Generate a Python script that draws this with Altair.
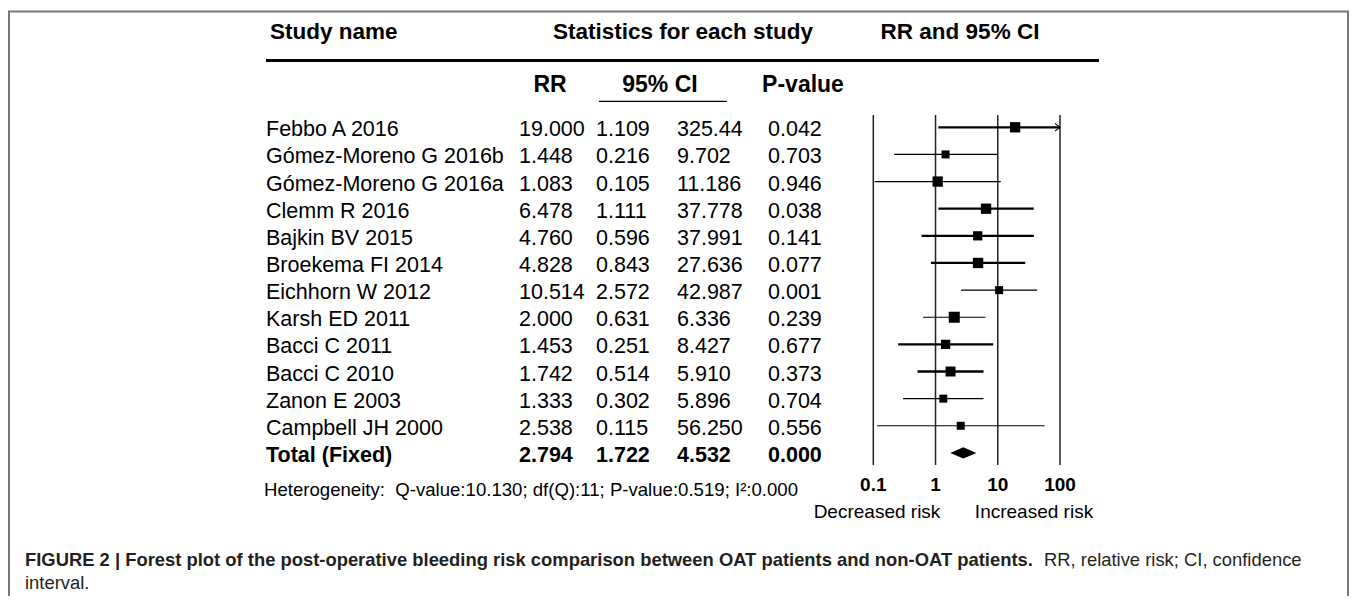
import altair as alt
import pandas as pd

# ---------------- data ----------------
studies = ["Febbo A 2016", "Gómez-Moreno G 2016b", "Gómez-Moreno G 2016a", "Clemm R 2016",
           "Bajkin BV 2015", "Broekema FI 2014", "Eichhorn W 2012", "Karsh ED 2011",
           "Bacci C 2011", "Bacci C 2010", "Zanon E 2003", "Campbell JH 2000"]
rr = [19.000, 1.448, 1.083, 6.478, 4.760, 4.828, 10.514, 2.000, 1.453, 1.742, 1.333, 2.538]
ci_low = [1.109, 0.216, 0.105, 1.111, 0.596, 0.843, 2.572, 0.631, 0.251, 0.514, 0.302, 0.115]
ci_high = [325.44, 9.702, 11.186, 37.778, 37.991, 27.636, 42.987, 6.336, 8.427, 5.910, 5.896, 56.250]
p_values = [0.042, 0.703, 0.946, 0.038, 0.141, 0.077, 0.001, 0.239, 0.677, 0.373, 0.704, 0.556]
rel_weight = [0.9, 0.6, 0.9, 0.9, 0.75, 0.9, 0.6, 1.0, 0.75, 0.85, 0.6, 0.6]

total_label = "Total (Fixed)"
total_rr, total_low, total_high, total_p = 2.794, 1.722, 4.532, 0.000

axis_ticks = [0.1, 1, 10, 100]
axis_labels = ["0.1", "1", "10", "100"]
heterogeneity = "Heterogeneity:\u00a0 Q-value:10.130; df(Q):11; P-value:0.519; I\u00b2:0.000"
caption_bold = ("FIGURE 2 | Forest plot of the post-operative bleeding risk comparison "
                "between OAT patients and non-OAT patients.")
caption_rest = "RR, relative risk; CI, confidence"
caption_line2 = "interval."

# ---------------- styles ----------------
THICK_CI = {"Febbo A 2016", "Clemm R 2016", "Bajkin BV 2015", "Broekema FI 2014",
            "Bacci C 2011", "Bacci C 2010"}
FONT = "Liberation Sans"
W, H = 1341, 588
X_MAX = axis_ticks[-1]


def fmt(v):
    return f"{v:.3f}"[:6]


rows = pd.DataFrame({
    "row": list(range(len(studies))),
    "name": studies,
    "rr": rr,
    "lo": ci_low,
    "hi": ci_high,
    "w": rel_weight,
})
rows["hi_clip"] = rows["hi"].clip(upper=X_MAX)
rows["rr_s"] = rows["rr"].map(fmt)
rows["lo_s"] = rows["lo"].map(fmt)
rows["hi_s"] = rows["hi"].map(fmt)
rows["p_s"] = [f"{p:.3f}" for p in p_values]
rows["sw"] = [2.3 if s in THICK_CI else 1.2 for s in studies]

total_row = len(studies)
tot = pd.DataFrame({
    "row": [total_row], "name": [total_label],
    "rr_s": [fmt(total_rr)], "lo_s": [fmt(total_low)],
    "hi_s": [fmt(total_high)], "p_s": [f"{total_p:.3f}"],
})

xs = alt.Scale(type="log", domain=[axis_ticks[0], axis_ticks[-1]], range=[865.3, 1052])
ys = alt.Scale(domain=[0, total_row], range=[119.3, 444.9])

one = pd.DataFrame({"k": [0]})


def col_text(df, field, x, bold=False, size=21.5):
    return alt.Chart(df).mark_text(
        align="left", baseline="alphabetic", dy=9, font=FONT, fontSize=size,
        fontWeight="bold" if bold else "normal", color="black"
    ).encode(
        x=alt.value(x),
        y=alt.Y("row:Q", scale=ys, axis=None),
        text=f"{field}:N",
    )


def label(text, x, y, size=22.5, bold=True, align="center", color="black"):
    return alt.Chart(pd.DataFrame({"t": [text]})).mark_text(
        align=align, baseline="alphabetic", font=FONT, fontSize=size,
        fontWeight="bold" if bold else "normal", color=color
    ).encode(x=alt.value(x), y=alt.value(y), text="t:N")


layers = []

# frame
layers.append(alt.Chart(one).mark_rect(fillOpacity=0, stroke="#777777", strokeWidth=2).encode(
    x=alt.value(1), x2=alt.value(1340), y=alt.value(3.5), y2=alt.value(700)))

# headers
layers.append(label("Study name", 262, 31, align="left"))
layers.append(label("Statistics for each study", 675, 31))
layers.append(label("RR and 95% CI", 952, 31))
layers.append(alt.Chart(one).mark_rule(color="black", strokeWidth=3).encode(
    x=alt.value(258), x2=alt.value(1091), y=alt.value(52.4)))
layers.append(label("RR", 542, 84, size=23))
layers.append(label("95% CI", 652, 84, size=23))
layers.append(alt.Chart(one).mark_rule(color="black", strokeWidth=1.3).encode(
    x=alt.value(591), x2=alt.value(719), y=alt.value(93.4)))
layers.append(label("P-value", 795, 84, size=23))

# table columns
for field, x in [("name", 258), ("rr_s", 511), ("lo_s", 588), ("hi_s", 669), ("p_s", 760)]:
    layers.append(col_text(rows, field, x))
    layers.append(col_text(tot, field, x, bold=True))

# forest plot: reference lines
ticks = pd.DataFrame({"t": axis_ticks, "lab": axis_labels})
layers.append(alt.Chart(ticks).mark_rule(color="#222222", strokeWidth=1.5).encode(
    x=alt.X("t:Q", scale=xs, axis=None), y=alt.value(107), y2=alt.value(457)))
layers.append(alt.Chart(ticks).mark_text(
    font=FONT, fontSize=19, fontWeight="bold", baseline="alphabetic", color="black"
).encode(x=alt.X("t:Q", scale=xs, axis=None), y=alt.value(483), text="lab:N"))

# CI lines
layers.append(alt.Chart(rows).mark_rule(color="black").encode(
    x=alt.X("lo:Q", scale=xs, axis=None), x2="hi_clip:Q",
    y=alt.Y("row:Q", scale=ys, axis=None),
    strokeWidth=alt.StrokeWidth("sw:Q", scale=None, legend=None)))
# arrow heads for truncated CIs
layers.append(alt.Chart(rows[rows["hi"] > X_MAX]).mark_point(
    shape="M -1.3 -1 L 0 0 L -1.3 1", filled=False, color="black", strokeWidth=1.1, size=60, opacity=1
).encode(x=alt.X("hi_clip:Q", scale=xs, axis=None), y=alt.Y("row:Q", scale=ys, axis=None)))
# squares
layers.append(alt.Chart(rows).mark_square(color="black", opacity=1).encode(
    x=alt.X("rr:Q", scale=xs, axis=None), y=alt.Y("row:Q", scale=ys, axis=None),
    size=alt.Size("w:Q", scale=alt.Scale(domain=[0.6, 1.0], range=[64, 121]), legend=None)))
# diamond for pooled estimate
dh = 0.21
diamond = pd.DataFrame({
    "x": [total_low, total_rr, total_high],
    "y": [total_row, total_row - dh, total_row],
    "y2": [total_row, total_row + dh, total_row],
})
layers.append(alt.Chart(diamond).mark_area(color="black", orient="vertical", opacity=1).encode(
    x=alt.X("x:Q", scale=xs, axis=None), y=alt.Y("y:Q", scale=ys, axis=None), y2="y2:Q"))

# bottom texts
layers.append(label(heterogeneity, 256, 488, size=18.6, bold=False, align="left"))
layers.append(label("Decreased risk", 869, 510, size=19, bold=False))
layers.append(label("Increased risk", 1026, 510, size=19, bold=False))

# caption
layers.append(label(caption_bold, 17, 558, size=18.4, bold=True, align="left", color="#231f20"))
layers.append(label(caption_rest, 1036, 558, size=18.4, bold=False, align="left", color="#231f20"))
layers.append(label(caption_line2, 17, 581, size=18.4, bold=False, align="left", color="#231f20"))

chart = alt.layer(*layers).properties(
    width=W, height=H, padding=0, autosize=alt.AutoSizeParams(type="none"),
    background="white"
).configure_view(stroke=None)

chart.save("out.html", embed_options={"renderer": "svg", "actions": False})
